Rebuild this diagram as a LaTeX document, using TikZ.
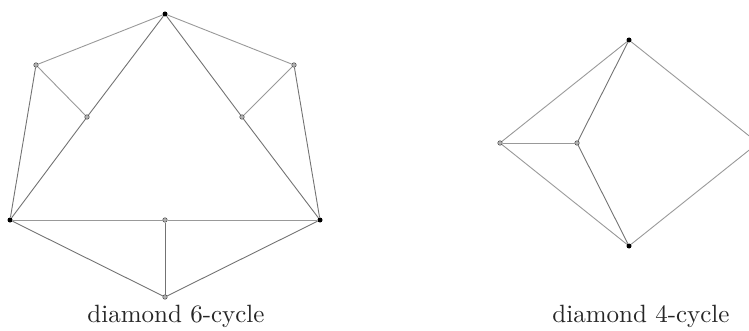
\documentclass[tikz,border=0pt]{standalone}
\begin{document}
\begin{tikzpicture}[x=1pt,y=-1pt,
  bv/.style={circle,fill=black,inner sep=0pt,minimum size=5pt},
  gv/.style={circle,fill=gray!60,draw=black!70,line width=0.5pt,inner sep=0pt,minimum size=4.5pt},
  ed/.style={draw=black!55,line width=0.9pt},
  edl/.style={draw=black!40,line width=0.9pt},
  lab/.style={font=\fontsize{10}{12}\selectfont,text=black!85,anchor=base,inner sep=0pt}]
\useasboundingbox (0,0) rectangle (749,331);
% left graph
\node[bv] (T) at (165,14) {};
\node[gv] (UL) at (36,65) {};
\node[gv] (UR) at (294,65) {};
\node[gv] (IL) at (87,117) {};
\node[gv] (IR) at (242,117) {};
\node[bv] (BL) at (10,220) {};
\node[bv] (BR) at (320,220) {};
\node[gv] (BM) at (165,220) {};
\node[gv] (B) at (165,297) {};
\draw[edl] (T) -- (UL);
\draw[edl] (T) -- (UR);
\draw[ed] (T) -- (IL);
\draw[ed] (T) -- (IR);
\draw[edl] (UL) -- (IL);
\draw[edl] (UR) -- (IR);
\draw[ed] (UL) -- (BL);
\draw[ed] (UR) -- (BR);
\draw[ed] (IL) -- (BL);
\draw[ed] (IR) -- (BR);
\draw[edl] (BL) -- (BM);
\draw[edl] (BM) -- (BR);
\draw[ed] (BM) -- (B);
\draw[ed] (BL) -- (B);
\draw[ed] (BR) -- (B);
\node[lab] (L1) at (176,322) {\scalebox{2.5}{diamond 6-cycle}};
% right graph
\node[bv] (T2) at (629,40) {};
\node[gv] (L2) at (500,143) {};
\node[gv] (M2) at (577,143) {};
\node[bv] (R2) at (758,143) {};
\node[bv] (B2) at (629,246) {};
\draw[edl] (T2) -- (L2);
\draw[ed] (T2) -- (M2);
\draw[edl] (T2) -- (R2);
\draw[edl] (L2) -- (M2);
\draw[edl] (L2) -- (B2);
\draw[ed] (M2) -- (B2);
\draw[edl] (B2) -- (R2);
\node[lab] (L2t) at (641,322) {\scalebox{2.5}{diamond 4-cycle}};
\end{tikzpicture}
\end{document}
